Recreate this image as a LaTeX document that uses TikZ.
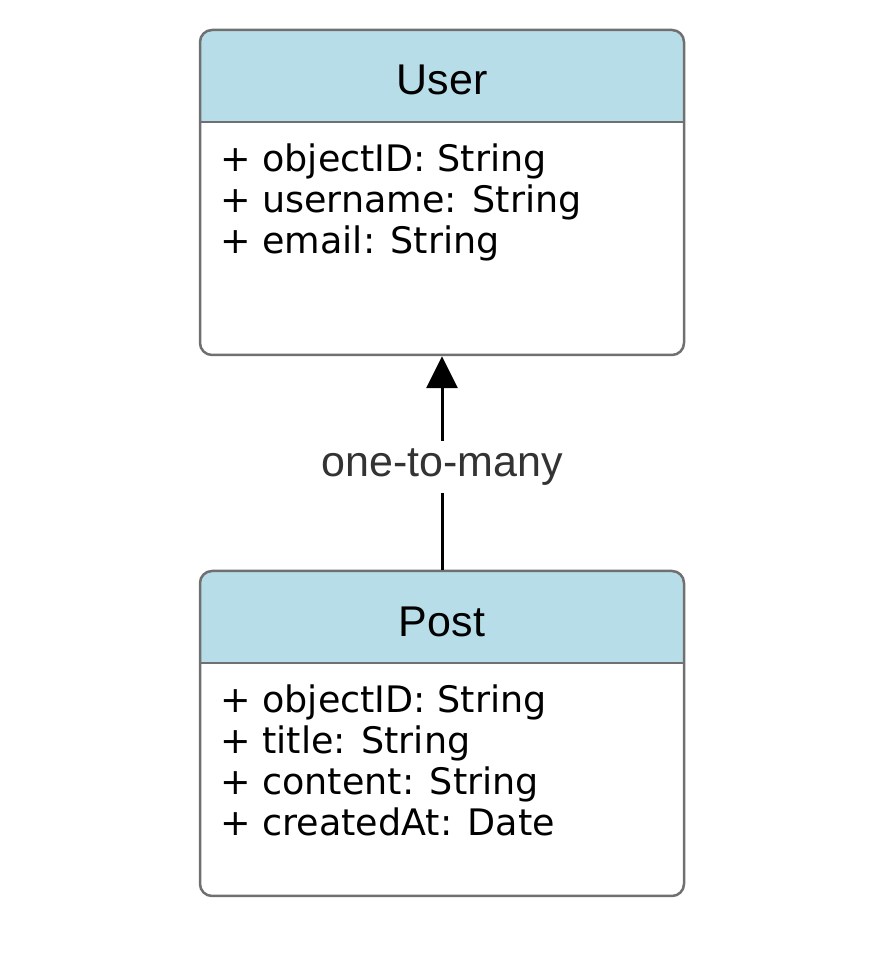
\documentclass[tikz,border=0pt]{standalone}
\usepackage{fontspec}
\setmainfont{DejaVu Sans}
\newfontfamily\titlefont{Liberation Sans}
\usetikzlibrary{arrows.meta,positioning}
\definecolor{hdrblue}{HTML}{B6DDE8}
\definecolor{boxgray}{HTML}{707070}
\definecolor{lblgray}{HTML}{333333}

\begin{document}
\begin{tikzpicture}[x=1pt,y=1pt,
	classbox/.style={draw=boxgray,line width=2.5pt,rounded corners=12pt,minimum width=484pt,minimum height=325pt,inner sep=0pt},
	classname/.style={font=\titlefont\fontsize{43}{50}\selectfont,inner sep=0pt},
	attrs/.style={font=\fontsize{36.5}{41}\selectfont,align=left,anchor=north west,inner sep=0pt},
	rel/.style={line width=3pt,-{Triangle[width=31pt,length=32pt]}},
	rellabel/.style={fill=white,text=lblgray,font=\titlefont\fontsize{43}{50}\selectfont,inner xsep=2pt,inner ysep=8pt,yshift=-4pt}]
	\useasboundingbox (0,0) rectangle (874,958);

	% header bands
	\begin{scope}
		\clip[rounded corners=12pt] (200,603) rectangle (684,928);
		\fill[hdrblue] (200,836) rectangle (684,928);
	\end{scope}
	\begin{scope}
		\clip[rounded corners=12pt] (200,62) rectangle (684,387);
		\fill[hdrblue] (200,295) rectangle (684,387);
	\end{scope}

	\node[classbox] (user) at (442,765.5) {};
	\node[classbox] (post) at (442,224.5) {};
	\coordinate (userH) at (684,836);
	\coordinate (postH) at (684,295);
	\draw[boxgray,line width=2.5pt] (user.west |- userH) -- (userH);
	\draw[boxgray,line width=2.5pt] (post.west |- postH) -- (postH);

	\node[classname] (userName) at (442,878) {User};
	\node[classname] (postName) at (442,336) {Post};

	\node[attrs] (userAttrs) at (220,814) {+ objectID: String\\+ username: String\\+ email: String};
	\node[attrs] (postAttrs) at (220,273) {+ objectID: String\\+ title: String\\+ content: String\\+ createdAt: Date};

	\draw[rel] (post) -- node[rellabel] {one-to-many} (user);
\end{tikzpicture}
\end{document}
